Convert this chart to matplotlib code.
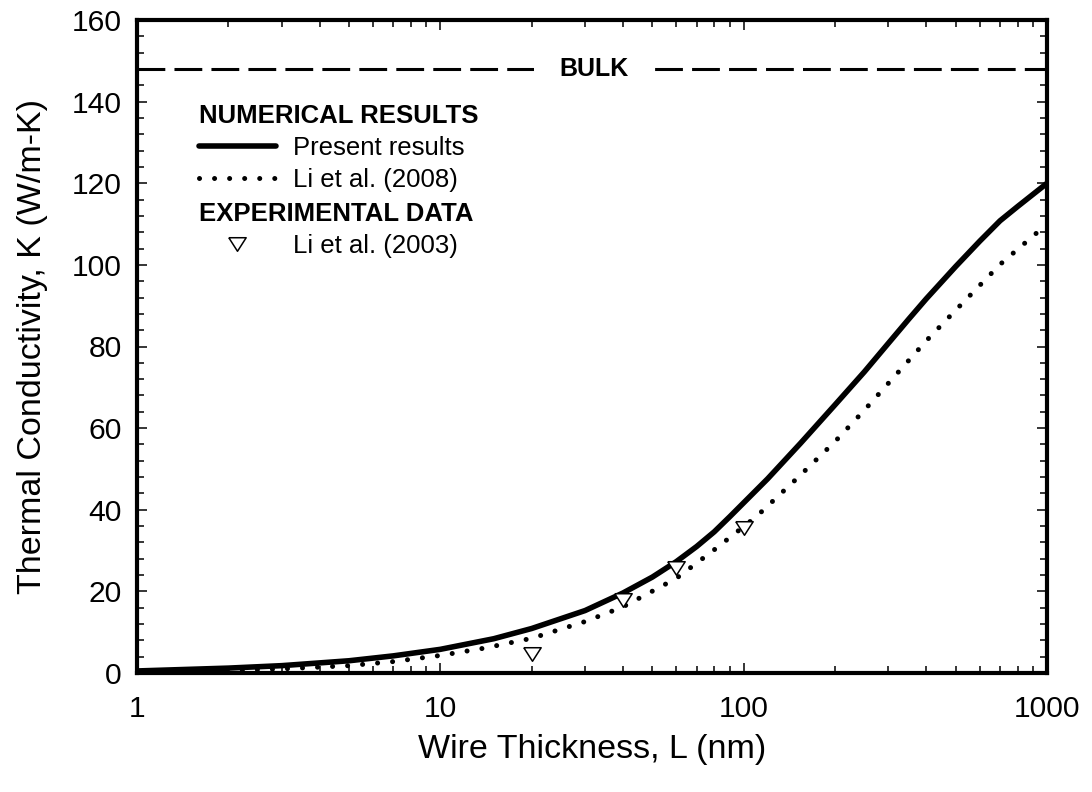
import matplotlib
matplotlib.use("Agg")
import matplotlib.pyplot as plt
from matplotlib.ticker import MultipleLocator, FixedLocator, FixedFormatter, LogLocator, NullFormatter

plt.rcParams['font.family'] = ['Liberation Sans', 'DejaVu Sans']

# ---- data ----
present_L = [1, 2, 3, 5, 7, 10, 15, 20, 30, 40, 50, 60, 70, 80, 90, 120, 154, 200, 250,
             300, 350, 400, 500, 600, 700, 800, 1000]
present_K = [0.5, 1.2, 1.8, 3.0, 4.2, 5.8, 8.4, 10.9, 15.3, 19.6, 23.5, 27.3, 31.0, 34.6,
             38.3, 47.6, 56.3, 65.7, 73.8, 80.8, 86.7, 91.7, 99.6, 105.8, 110.8, 114.3, 120.0]

li2008_L = [1, 2, 3, 5, 7, 10, 14, 20, 30, 40, 60, 80, 110, 150, 200, 250, 300, 400,
            500, 700, 1000]
li2008_K = [0.2, 0.6, 1.0, 1.8, 2.8, 4.3, 6.1, 8.5, 12.6, 16.2, 23.2, 30.2, 38.3, 47.7,
            56.7, 64.4, 71.0, 81.4, 88.9, 100.1, 110.0]

exp_L = [20, 40, 60, 100]
exp_K = [4.6, 18.0, 25.7, 35.6]

bulk_K = 148

x_ticks = [1, 10, 100, 1000]
x_tick_labels = ["1", "10", "100", "1000"]

# ---- figure ----
fig = plt.figure(figsize=(10.92, 7.92), dpi=100)
ax = fig.add_axes([137/1092, 1 - 673/792, 910/1092, 653/792])

tri = [(-1, 0.78), (1, 0.78), (0, -0.78), (-1, 0.78)]

ax.axhline(bulk_K, color='black', lw=2.2, dashes=(9.1, 3.0), zorder=2)
ax.text(0.502, bulk_K, 'BULK', transform=ax.get_yaxis_transform(), ha='center', va='center',
        fontsize=18, fontweight='bold', zorder=4,
        bbox=dict(boxstyle='square,pad=1.0', fc='white', ec='none'))

h1, = ax.plot(present_L, present_K, color='black', lw=4.0, solid_capstyle='round',
              solid_joinstyle='round', zorder=3)
h2, = ax.plot(li2008_L, li2008_K, color='black', lw=3.6, linestyle=(0, (0.01, 3.0)),
              dash_capstyle='round', zorder=3)
h3, = ax.plot(exp_L, exp_K, linestyle='none', marker=tri, ms=12.5, mfc='white',
              mec='black', mew=1.1, zorder=5)

ax.set_xscale('log')
ax.set_xlim(1, 1000)
ax.set_ylim(0, 160)
ax.xaxis.set_major_locator(FixedLocator(x_ticks))
ax.xaxis.set_major_formatter(FixedFormatter(x_tick_labels))
ax.xaxis.set_minor_locator(LogLocator(base=10, subs=range(2, 10)))
ax.xaxis.set_minor_formatter(NullFormatter())
ax.yaxis.set_major_locator(MultipleLocator(20))
ax.yaxis.set_minor_locator(MultipleLocator(4))

ax.tick_params(which='both', direction='in', top=True, right=True, width=1.1, labelsize=21.6)
ax.tick_params(which='major', length=7)
ax.tick_params(which='minor', length=5)
ax.tick_params(axis='y', pad=11)
ax.tick_params(axis='x', pad=16)
for s in ax.spines.values():
    s.set_linewidth(3)

ax.set_xlabel('Wire Thickness, L (nm)', fontsize=24.5, labelpad=8)
ax.set_ylabel('Thermal Conductivity, K (W/m-K)', fontsize=24.5, labelpad=17)

common = dict(loc='upper left', frameon=False, alignment='left', fontsize=18.5,
              title_fontproperties={'weight': 'bold', 'size': 18.5},
              handlelength=3.0, handletextpad=0.68, labelspacing=0.3, borderpad=0,
              borderaxespad=0)
leg1 = ax.legend([h1, h2], ['Present results', 'Li et al. (2008)'], title='NUMERICAL RESULTS',
                 bbox_to_anchor=(0.068, 0.871), **common)
ax.add_artist(leg1)
leg2 = ax.legend([h3], ['Li et al. (2003)'], title='EXPERIMENTAL DATA',
                 bbox_to_anchor=(0.068, 0.721), numpoints=1, **common)

fig.savefig('out.png', dpi=100)
